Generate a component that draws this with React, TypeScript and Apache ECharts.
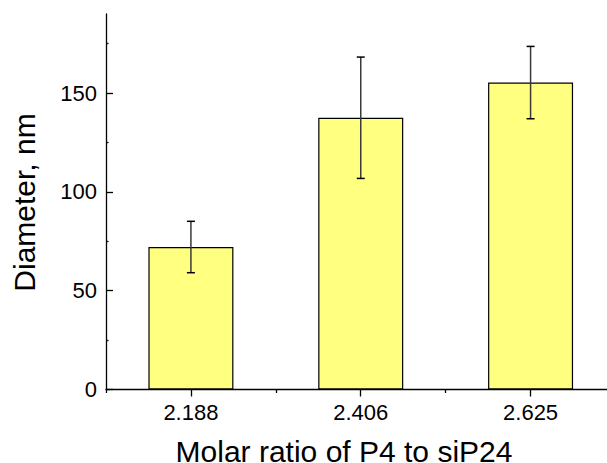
import React, { useEffect, useRef } from "react";
import * as echarts from "echarts";

const categories = ["2.188", "2.406", "2.625"];
const positions = [1, 2, 3];
const diameters = [72.1, 137.5, 155.3];
const errors = [13.0, 30.7, 18.3];
const yMajorTicks = [0, 50, 100, 150];
const yMinorTicks = [25, 75, 125, 175];
const xMinorTicks = [0.5, 1.5, 2.5];
const xTitle = "Molar ratio of P4 to siP24";
const yTitle = "Diameter, nm";

export default function App() {
  const ref = useRef<HTMLDivElement>(null);
  useEffect(() => {
    document.body.style.margin = "0";
    const chart = echarts.init(ref.current as HTMLDivElement, null, { renderer: "svg" });
    const font = "'Liberation Sans', Arial, Helvetica, sans-serif";
    const X_MIN = 0.5;
    const X_MAX = 3.45;
    const Y_MIN = 0;
    const Y_MAX = 190;
    chart.setOption({
      animation: false,
      backgroundColor: "#fff",
      grid: { left: 106, right: 0, top: 14, bottom: 73.5, containLabel: false },
      xAxis: [
        {
          type: "value",
          min: X_MIN,
          max: X_MAX,
          position: "bottom",
          axisLine: { show: true, lineStyle: { color: "#000", width: 1.3 } },
          axisTick: {
            show: true,
            inside: false,
            length: 7,
            customValues: positions,
            lineStyle: { color: "#000", width: 1.3 },
          },
          axisLabel: {
            customValues: positions,
            formatter: (v: number) => categories[Math.round(v) - 1] ?? "",
            fontSize: 22,
            color: "#000",
            margin: 12,
            fontFamily: font,
          },
          splitLine: { show: false },
        },
        {
          type: "value",
          min: X_MIN,
          max: X_MAX,
          position: "bottom",
          axisLine: { show: false },
          axisTick: {
            show: true,
            inside: false,
            length: 3.5,
            customValues: xMinorTicks,
            lineStyle: { color: "#000", width: 1.3 },
          },
          axisLabel: { show: false },
          splitLine: { show: false },
        },
      ],
      yAxis: [
        {
          type: "value",
          min: Y_MIN,
          max: Y_MAX,
          position: "left",
          axisLine: { show: true, lineStyle: { color: "#000", width: 1.3 } },
          axisTick: {
            show: true,
            inside: true,
            length: 7,
            customValues: yMajorTicks,
            lineStyle: { color: "#000", width: 1.3 },
          },
          axisLabel: {
            customValues: yMajorTicks,
            fontSize: 22,
            color: "#000",
            margin: 9,
            fontFamily: font,
          },
          splitLine: { show: false },
        },
        {
          type: "value",
          min: Y_MIN,
          max: Y_MAX,
          position: "left",
          axisLine: { show: false },
          axisTick: {
            show: true,
            inside: true,
            length: 2.5,
            customValues: yMinorTicks,
            lineStyle: { color: "#000", width: 1.3 },
          },
          axisLabel: { show: false },
          splitLine: { show: false },
        },
      ],
      series: [
        {
          type: "bar",
          xAxisIndex: 0,
          yAxisIndex: 0,
          data: positions.map((p, i) => [p, diameters[i]]),
          barWidth: 85,
          itemStyle: { color: "#FFFF80", borderColor: "#000", borderWidth: 1.2 },
          z: 2,
        },
        {
          type: "custom",
          xAxisIndex: 0,
          yAxisIndex: 0,
          z: 3,
          data: positions.map((p, i) => [p, diameters[i] - errors[i], diameters[i] + errors[i]]),
          renderItem: (params: any, api: any) => {
            const lo = api.coord([api.value(0), api.value(1)]);
            const hi = api.coord([api.value(0), api.value(2)]);
            const hw = 4;
            return {
              type: "group",
              children: [
                {
                  type: "line",
                  shape: { x1: lo[0], y1: lo[1], x2: hi[0], y2: hi[1] },
                  style: { stroke: "#3a3a3a", lineWidth: 1.5 },
                },
                {
                  type: "line",
                  shape: { x1: hi[0] - hw, y1: hi[1], x2: hi[0] + hw, y2: hi[1] },
                  style: { stroke: "#000", lineWidth: 1.5 },
                },
                {
                  type: "line",
                  shape: { x1: lo[0] - hw, y1: lo[1], x2: lo[0] + hw, y2: lo[1] },
                  style: { stroke: "#000", lineWidth: 1.5 },
                },
              ],
            };
          },
        },
      ],
      graphic: [
        {
          type: "text",
          x: 344,
          y: 451,
          style: {
            text: xTitle,
            fontSize: 30,
            fontFamily: font,
            fill: "#000",
            align: "center",
            verticalAlign: "middle",
          },
        },
        {
          type: "text",
          x: 24.6,
          y: 202.5,
          rotation: Math.PI / 2,
          style: {
            text: yTitle,
            fontSize: 30,
            fontFamily: font,
            fill: "#000",
            align: "center",
            verticalAlign: "middle",
          },
        },
      ],
    });
    return () => {
      chart.dispose();
    };
  }, []);
  return <div ref={ref} style={{ width: 607, height: 463 }} />;
}
